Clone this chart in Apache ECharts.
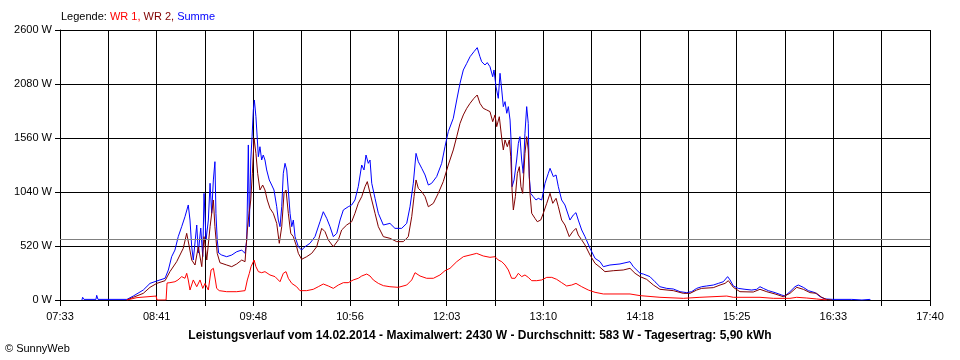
<!DOCTYPE html>
<html>
<head>
<meta charset="utf-8">
<script src="https://cdn.jsdelivr.net/npm/echarts@6/dist/echarts.min.js"></script>
<style>
  html, body { margin: 0; padding: 0; background: #fff; }
  #chart { width: 960px; height: 360px; }
</style>
</head>
<body>
<div id="chart"></div>
<script>
// Time axis: minutes elapsed since 07:33 (axis runs to 17:40)
const TICK_LABELS = ['07:33','08:41','09:48','10:56','12:03','13:10','14:18','15:25','16:33','17:40'];
const SPAN_MIN = 607;
const Y_TICKS = [0, 520, 1040, 1560, 2080, 2600];
const AVERAGE_W = 583;

// [minutes since 07:33, watts]
const wr1 = [[46.7,0],[53.7,23],[67.0,38],[67.7,0],[74.0,0],[74.7,164],[76.7,167],[80.2,176],[82.3,193],[84.9,225],[87.2,209],[88.4,257],[89.5,193],[90.7,96],[93.0,193],[95.4,128],[97.7,193],[99.6,112],[101.2,160],[103.5,96],[105.4,289],[107.0,305],[108.4,193],[109.3,112],[111.1,90],[116.3,80],[123.3,80],[129.1,90],[130.7,193],[132.1,257],[133.3,321],[135.4,385],[136.7,321],[138.4,273],[140.7,263],[143.0,273],[146.5,241],[150.0,225],[153.5,176],[155.8,257],[157.7,273],[159.3,209],[161.7,160],[165.1,128],[167.4,90],[172.1,90],[176.7,103],[180.2,128],[183.7,154],[187.2,135],[190.7,112],[194.2,144],[197.7,167],[201.1,167],[204.6,193],[208.1,209],[210.5,231],[214.0,250],[216.3,231],[218.6,193],[222.1,160],[225.6,138],[230.2,128],[236.0,122],[241.9,144],[245.4,193],[247.7,263],[251.2,231],[255.8,209],[260.5,209],[265.1,241],[268.6,282],[272.1,305],[276.8,369],[281.4,417],[286.1,433],[290.7,449],[295.3,424],[300.0,411],[303.5,417],[305.8,385],[308.2,369],[310.5,337],[312.8,289],[315.1,209],[317.5,209],[319.8,257],[322.1,225],[324.4,241],[326.7,218],[329.1,186],[332.6,186],[336.1,193],[339.6,218],[343.1,218],[346.5,199],[350.0,167],[353.5,135],[357.0,144],[360.0,160],[364.0,128],[368.6,96],[373.3,74],[379.1,58],[397.7,58],[404.7,42],[418.6,26],[434.9,16],[446.5,26],[465.2,38],[469.8,26],[488.4,26],[497.7,16],[509.3,16],[514.0,26],[521.0,19],[527.9,10],[534.9,0]];

const wr2 = [[46.7,0],[51.1,26],[58.1,64],[62.8,122],[67.5,160],[73.3,186],[76.7,273],[81.4,369],[86.0,498],[88.4,642],[90.2,513],[91.9,385],[94.2,337],[96.5,513],[98.9,321],[100.5,610],[102.4,385],[104.7,706],[107.0,963],[108.1,706],[109.7,449],[111.6,359],[116.3,337],[119.8,321],[123.3,347],[126.8,385],[129.1,369],[130.7,674],[131.9,835],[133.1,963],[134.2,1220],[135.4,1557],[136.7,1412],[137.9,1220],[139.5,1059],[141.4,1107],[143.0,1059],[144.6,963],[146.5,883],[148.8,835],[151.2,738],[153.0,546],[154.7,706],[156.3,1027],[157.7,1059],[159.3,835],[161.0,642],[162.8,610],[165.1,513],[166.3,449],[168.6,392],[172.1,417],[175.6,449],[179.1,513],[182.6,690],[184.9,658],[187.2,578],[190.7,513],[194.2,578],[196.5,674],[200.0,722],[203.5,754],[205.8,835],[208.1,931],[210.5,995],[212.8,1091],[214.4,1140],[215.8,1059],[217.5,963],[219.8,835],[222.1,706],[225.6,610],[230.2,594],[234.9,562],[239.5,562],[243.0,610],[245.4,802],[247.0,995],[248.4,1156],[250.0,1075],[252.4,1043],[254.7,995],[257.0,898],[260.5,931],[263.9,1027],[267.4,1140],[270.9,1300],[274.4,1445],[276.8,1573],[279.1,1701],[281.4,1782],[283.8,1846],[286.1,1894],[288.8,1942],[291.1,1974],[293.0,1894],[295.3,1846],[297.7,1830],[300.0,1814],[301.9,1717],[303.5,1782],[304.7,1669],[306.5,1765],[308.2,1557],[309.3,1445],[310.5,1541],[312.1,1476],[313.5,1541],[314.5,1380],[315.4,1059],[316.3,867],[317.7,995],[319.1,1220],[320.5,1284],[321.6,1091],[322.8,1027],[324.4,1412],[325.6,1573],[326.7,1445],[327.9,1027],[329.1,835],[331.4,786],[333.0,754],[335.4,770],[337.2,835],[339.6,931],[341.9,1027],[343.8,931],[346.1,979],[347.7,898],[350.0,770],[352.3,722],[355.3,610],[357.7,658],[360.0,690],[361.6,626],[364.0,578],[366.3,530],[369.8,433],[373.3,353],[376.8,315],[380.2,273],[386.0,282],[393.0,289],[397.7,305],[401.2,257],[404.7,225],[409.3,199],[414.0,144],[418.6,103],[427.9,90],[434.9,64],[439.6,64],[444.2,96],[447.7,112],[455.8,119],[460.5,144],[464.0,160],[466.3,186],[469.8,122],[474.4,80],[483.7,77],[488.4,103],[493.1,80],[498.9,58],[504.6,32],[509.3,64],[514.0,122],[518.6,103],[523.3,71],[527.9,64],[531.4,26],[534.9,5],[538.6,0]];

const summe = [[15.3,0],[15.8,26],[16.7,6],[25.1,6],[25.6,45],[26.5,6],[46.7,6],[51.1,38],[58.1,96],[62.8,160],[67.5,183],[73.3,209],[75.6,289],[77.9,417],[80.2,481],[82.5,610],[84.9,706],[87.2,802],[89.5,915],[90.7,770],[91.9,513],[93.0,385],[95.4,722],[96.5,452],[98.2,693],[99.6,417],[100.5,1027],[101.9,578],[103.5,770],[104.7,1124],[105.8,835],[107.0,1156],[108.1,1332],[108.8,835],[109.7,578],[110.7,452],[112.8,433],[116.3,417],[119.8,433],[123.3,465],[126.8,481],[129.1,449],[130.3,578],[131.4,1493],[132.1,706],[133.1,1348],[134.0,1573],[134.9,1830],[135.6,1926],[136.7,1765],[137.7,1541],[138.4,1380],[139.5,1476],[140.7,1348],[141.8,1396],[143.0,1348],[144.2,1252],[146.0,1156],[147.7,1107],[149.3,1059],[151.2,898],[152.3,770],[153.5,706],[154.7,898],[155.8,1220],[157.0,1316],[158.2,1252],[159.3,1059],[160.5,835],[161.7,706],[162.8,770],[164.0,610],[166.3,513],[168.6,481],[170.9,513],[174.4,546],[177.9,610],[181.4,754],[183.7,850],[186.1,786],[188.4,706],[190.7,610],[193.1,642],[195.4,770],[197.7,867],[201.1,898],[203.5,915],[205.8,963],[208.1,1091],[210.5,1300],[212.1,1252],[213.5,1396],[215.1,1316],[216.3,1348],[217.5,1124],[219.8,979],[222.1,835],[225.6,722],[230.2,738],[233.7,690],[238.4,690],[241.9,738],[244.2,898],[246.5,1124],[248.4,1412],[250.0,1332],[252.4,1268],[254.7,1204],[257.0,1107],[259.3,1124],[262.8,1188],[266.3,1316],[268.6,1476],[270.9,1621],[274.4,1750],[276.8,1926],[279.1,2087],[281.4,2215],[283.8,2279],[286.1,2343],[288.8,2391],[291.1,2430],[293.0,2343],[294.2,2295],[296.5,2263],[298.1,2286],[300.0,2247],[301.9,2150],[302.8,2215],[304.2,2054],[305.8,1942],[307.0,2183],[308.2,2022],[309.3,1862],[310.5,1910],[311.7,1798],[312.8,1862],[314.0,1733],[314.7,1541],[315.4,1091],[316.8,1156],[318.6,1348],[319.8,1509],[320.9,1573],[322.1,1348],[323.2,1220],[324.4,1605],[325.6,1862],[326.7,1701],[327.4,1188],[328.4,1027],[330.2,995],[332.1,963],[333.7,979],[336.1,963],[338.4,1124],[340.7,1220],[341.9,1268],[344.2,1188],[346.1,1204],[347.7,1091],[350.0,963],[352.3,915],[355.8,770],[358.1,818],[360.0,841],[361.6,770],[364.0,674],[366.3,610],[369.8,498],[373.3,401],[376.8,369],[379.1,321],[383.7,337],[390.7,347],[397.7,369],[400.0,321],[404.7,257],[407.0,250],[411.6,225],[415.1,176],[418.6,128],[423.3,112],[427.9,106],[432.6,80],[437.2,71],[440.7,80],[444.2,112],[447.7,128],[451.2,135],[455.8,144],[459.3,160],[462.8,176],[465.8,225],[467.5,193],[469.8,135],[473.2,112],[477.9,103],[482.6,96],[486.1,103],[488.4,128],[490.7,112],[494.2,90],[498.9,71],[503.5,48],[505.8,38],[509.3,80],[512.8,128],[515.1,144],[518.6,122],[522.1,90],[526.8,71],[530.3,32],[533.7,10],[539.5,6],[552.4,6],[552.6,0],[559.5,0],[559.9,6],[565.1,6],[565.5,0]];

const LEGEND_TEXT = ['Legende: ', 'WR 1, ', 'WR 2, ', 'Summe'];
const FOOTER_TEXT = 'Leistungsverlauf vom 14.02.2014 - Maximalwert: 2430 W - Durchschnitt: 583 W - Tagesertrag: 5,90 kWh';
const COPYRIGHT = '\u00A9 SunnyWeb';

const FONT = 'Liberation Sans, Arial, sans-serif';
const STEP = SPAN_MIN / 18;

const chart = echarts.init(document.getElementById('chart'), null, { renderer: 'canvas' });

function lineSeries(name, data, color, extra) {
  return Object.assign({
    name: name,
    type: 'line',
    data: data,
    showSymbol: false,
    symbol: 'none',
    silent: true,
    lineStyle: { color: color, width: 1 },
    itemStyle: { color: color },
    animation: false
  }, extra || {});
}

function rich(color) {
  return { color: color, fontSize: 11, fontWeight: 'normal', fontFamily: FONT };
}

chart.setOption({
  animation: false,
  backgroundColor: '#ffffff',
  textStyle: { fontFamily: FONT },
  title: [
    {
      text: '{k|' + LEGEND_TEXT[0] + '}{a|' + LEGEND_TEXT[1] + '}{b|' + LEGEND_TEXT[2] + '}{c|' + LEGEND_TEXT[3] + '}',
      left: 61, top: 11, padding: 0,
      textStyle: {
        fontWeight: 'normal', fontSize: 11, fontFamily: FONT,
        rich: { k: rich('#000000'), a: rich('#ff0000'), b: rich('#800000'), c: rich('#0000ff') }
      }
    },
    {
      text: FOOTER_TEXT,
      left: 'center', top: 330, padding: 0,
      textStyle: { color: '#000', fontSize: 12, fontWeight: 'bold', fontFamily: FONT }
    },
    {
      text: COPYRIGHT,
      left: 5, top: 343, padding: 0,
      textStyle: { color: '#000', fontSize: 11, fontWeight: 'normal', fontFamily: FONT }
    }
  ],
  grid: { left: 60, right: 30, top: 30, bottom: 60, containLabel: false },
  xAxis: {
    type: 'value',
    min: 0,
    max: SPAN_MIN,
    interval: STEP,
    axisLine: { show: true, lineStyle: { color: '#000', width: 1 } },
    axisTick: { show: true, length: 6, lineStyle: { color: '#000', width: 1 } },
    splitLine: { show: true, lineStyle: { color: '#000', width: 1 } },
    axisLabel: {
      color: '#000', fontSize: 11, fontFamily: FONT, margin: 11,
      showMinLabel: true, showMaxLabel: true,
      formatter: function (v) {
        const i = Math.round(v / STEP);
        return (i % 2 === 0) ? (TICK_LABELS[i / 2] || '') : '';
      }
    }
  },
  yAxis: {
    type: 'value',
    min: Y_TICKS[0],
    max: Y_TICKS[Y_TICKS.length - 1],
    interval: Y_TICKS[1] - Y_TICKS[0],
    axisLine: { show: true, lineStyle: { color: '#000', width: 1 } },
    axisTick: { show: true, length: 5, lineStyle: { color: '#000', width: 1 } },
    splitLine: { show: true, lineStyle: { color: '#000', width: 1 } },
    axisLabel: {
      color: '#000', fontSize: 11, fontFamily: FONT, margin: 8,
      formatter: function (v) { return v + ' W'; }
    }
  },
  series: [
    lineSeries('Summe', summe, '#0000ff', {
      z: 2,
      markLine: {
        silent: true,
        symbol: ['none', 'none'],
        label: { show: false },
        lineStyle: { color: '#808080', type: 'solid', width: 1 },
        data: [{ yAxis: AVERAGE_W }],
        animation: false
      }
    }),
    lineSeries('WR 2', wr2, '#800000', { z: 3 }),
    lineSeries('WR 1', wr1, '#ff0000', { z: 4 })
  ]
});
</script>
</body>
</html>
